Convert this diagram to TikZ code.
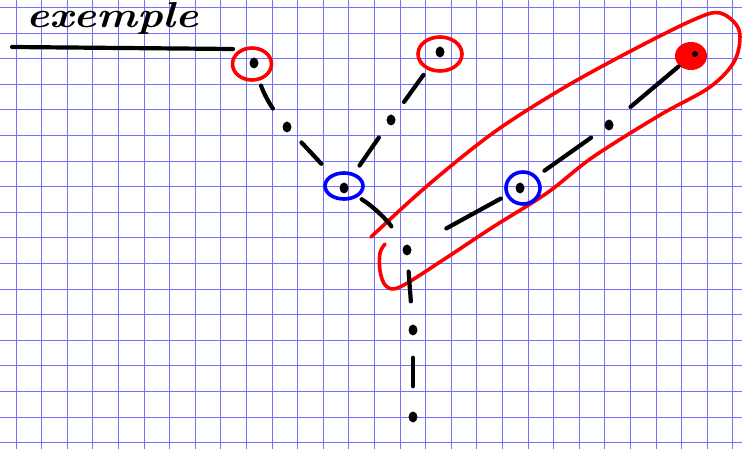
\documentclass[tikz,border=0pt]{standalone}
\usepackage{fontspec}
\usepackage{graphicx}
\usetikzlibrary{shapes.geometric}
\begin{document}
\begin{tikzpicture}[x=1pt,y=-1pt,
  gridline/.style={draw=blue!55, line width=0.9pt},
  ink/.style={draw=black, line width=4.2pt, line cap=round},
  redink/.style={draw=red, line width=3.6pt, line cap=round, line join=round},
  blueink/.style={draw=blue, line width=3.6pt},
  dot/.style={ellipse, fill=black, inner sep=0pt, minimum width=9pt, minimum height=11pt}]
\useasboundingbox (0,0) rectangle (742,449);
\fill[white] (0,0) rectangle (742,449);
% grid
\foreach \k in {0,...,28} \draw[gridline] ({16+25.6*\k},0) -- ({16+25.6*\k},449);
\foreach \k in {0,...,17} \draw[gridline] (0,{7.4+25.6*\k}) -- (742,{7.4+25.6*\k});
% title
\node[anchor=base west, inner sep=0pt, font=\fontsize{36}{40}\selectfont\bfseries\itshape] (title) at (26,28) {\scalebox{1.2}[1]{exemple}};
\coordinate (l1) at (12,47);
\coordinate (l2) at (233,49);
\draw[ink] (l1) -- (l2);
% dots
\node[dot] (A) at (254,63) {};
\node[dot] (B) at (287,127) {};
\node[dot] (C) at (344,188) {};
\node[dot] (D) at (440,52) {};
\node[dot] (E) at (391,120) {};
\node[dot] (F) at (407,250) {};
\node[dot] (G) at (413,330) {};
\node[dot] (H) at (413,417) {};
\node[dot] (I) at (520,188) {};
\node[dot] (J) at (609,125) {};
% big red loop
\draw[redink] plot[smooth, tension=0.55] coordinates {(371,237) (427,186) (493,133) (560,90) (627,53) (693,20) (720,13) (739,30) (735,60) (710,87) (660,115) (593,157) (547,193) (493,227) (443,260) (400,287) (386,286) (380,271) (380,253) (385,244)};
% circles
\draw[redink] (252,64) ellipse [x radius=19.5, y radius=16];
\draw[redink] (440,54) ellipse [x radius=22, y radius=17];
\draw[blueink] (344,186) ellipse [x radius=19, y radius=13];
\draw[blueink] (523,188) ellipse [x radius=17, y radius=16];
\node[ellipse, fill=red, minimum width=32pt, minimum height=28pt, inner sep=0pt] (K) at (691,56) {};
\fill[black] (695,54) circle (3);
% connectors
\draw[ink, shorten <=18pt, shorten >=18pt] (A) to[bend right=10] (B);
\draw[ink, shorten <=16pt, shorten >=28pt] (B) -- (C);
\draw[ink, shorten <=23pt, shorten >=17pt] (D) -- (E);
\draw[ink, shorten <=16pt, shorten >=22pt] (E) -- (C);
\draw[ink, shorten <=16pt, shorten >=23pt] (C) to[bend left=12] (F);
\draw[ink, shorten <=16pt, shorten >=23pt] (F) -- (G);
\draw[ink, shorten <=22pt, shorten >=25pt] (G) -- (H);
\draw[ink, shorten <=40pt, shorten >=17pt] (F) -- (I);
\draw[ink, shorten <=25pt, shorten >=17pt] (I) -- (J);
\draw[ink, shorten <=23pt, shorten >=1pt] (J) -- (K);
\end{tikzpicture}
\end{document}
